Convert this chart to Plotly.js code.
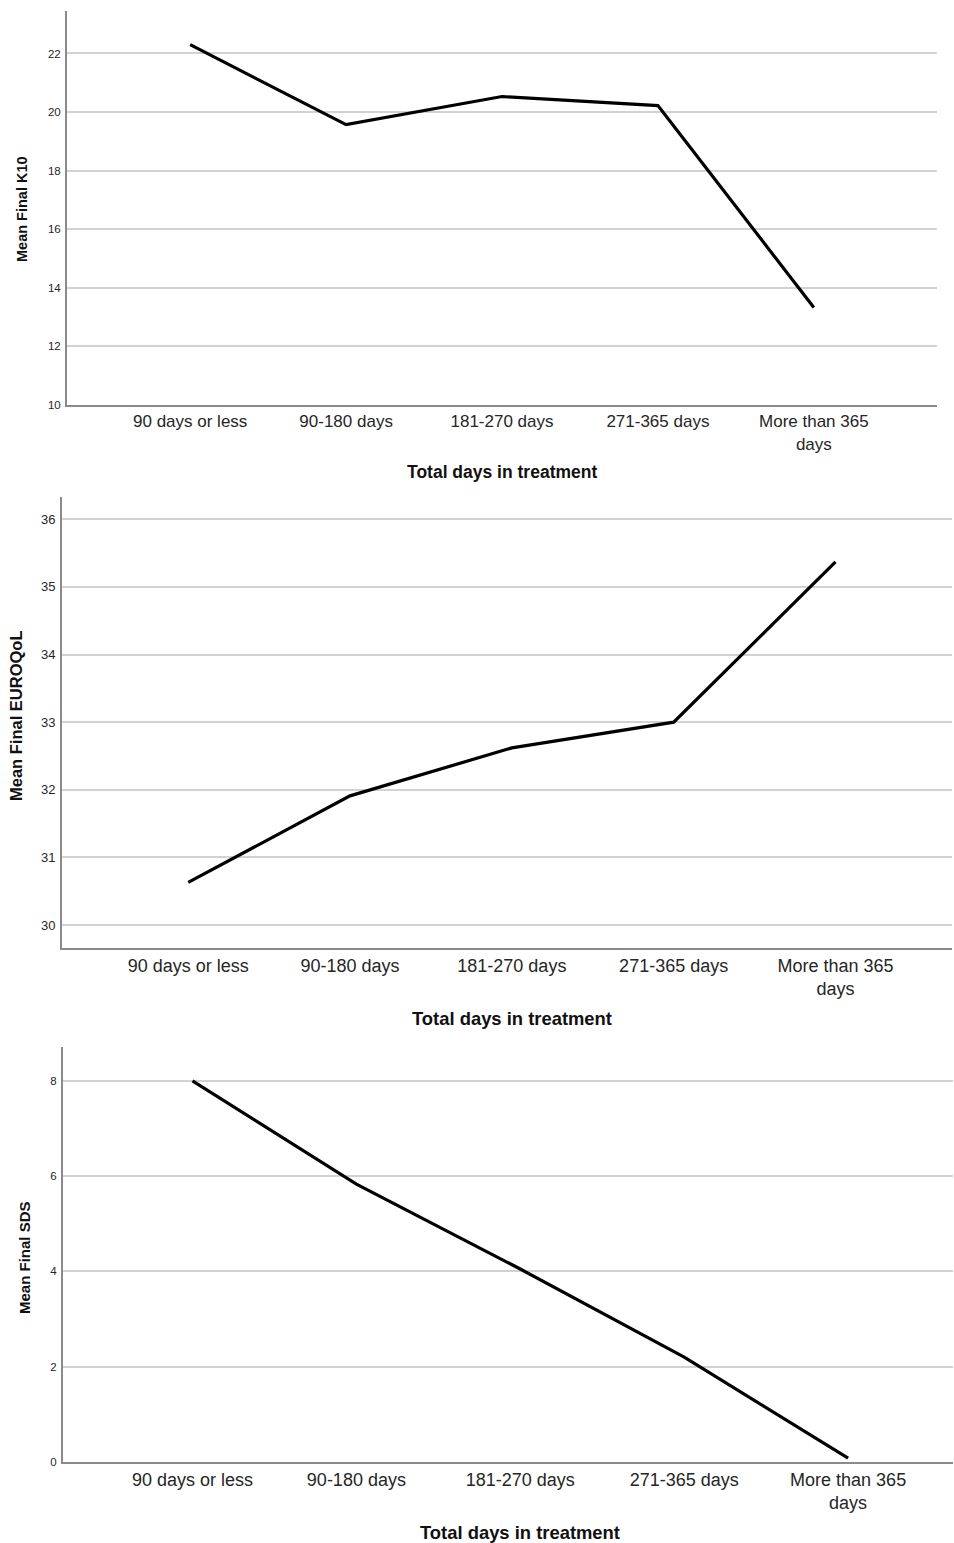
<!DOCTYPE html>
<html>
<head>
<meta charset="utf-8">
<script src="https://cdn.plot.ly/plotly-3.0.1.min.js"></script>
<style>html,body{margin:0;padding:0;background:#fff;}#chart{width:954px;height:1543px;}</style>
</head>
<body>
<div id="chart"></div>
<script>
// Data
const categories = ["90 days or less", "90-180 days", "181-270 days", "271-365 days", "More than 365 days"];
const tickLabels = ["90 days or less", "90-180 days", "181-270 days", "271-365 days", "More than 365<br>days"];
const k10Values = [22.3, 19.57, 20.53, 20.22, 13.33];
const euroqolValues = [30.63, 31.91, 32.62, 33.0, 35.37];
const sdsValues = [8.0, 5.83, 4.05, 2.2, 0.08];
const k10Ticks = [10, 12, 14, 16, 18, 20, 22];
const euroqolTicks = [30, 31, 32, 33, 34, 35, 36];
const sdsTicks = [0, 2, 4, 6, 8];
const xTitle = "Total days in treatment";
const yTitles = ["Mean Final K10", "Mean Final EUROQoL", "Mean Final SDS"];

const W = 954, H = 1543;
const px = v => v / W;
const py = v => 1 - v / H;
const FONT = "Liberation Sans, Arial, sans-serif";
const TXT = "#262626";

function trace(vals, xa, ya) {
  return {x: categories, y: vals, xaxis: xa, yaxis: ya, type: "scatter", mode: "lines",
    line: {color: "#000", width: 3.2}, hoverinfo: "skip", showlegend: false};
}
function xaxis(l, r, range, fs) {
  return {domain: [px(l), px(r)], type: "category", range: range, tickmode: "array",
    tickvals: categories, ticktext: tickLabels, showgrid: false, zeroline: false,
    showline: true, linecolor: "#8a8a8a", linewidth: 2, ticks: "", fixedrange: true,
    tickfont: {family: FONT, size: fs, color: TXT}};
}
function yaxis(t, b, range, ticks, fs, anchor) {
  return {domain: [py(b), py(t)], range: range, tickmode: "array", tickvals: ticks,
    showgrid: true, gridcolor: "#d2d2d2", gridwidth: 2, zeroline: false,
    showline: true, linecolor: "#8a8a8a", linewidth: 2, ticks: "", anchor: anchor,
    ticklabelstandoff: 2, fixedrange: true,
    tickfont: {family: FONT, size: fs, color: TXT}};
}

const data = [
  trace(k10Values, "x", "y"),
  trace(euroqolValues, "x2", "y2"),
  trace(sdsValues, "x3", "y3")
];

const layout = {
  width: W, height: H, margin: {l: 0, r: 0, t: 0, b: 0},
  paper_bgcolor: "#fff", plot_bgcolor: "#fff", showlegend: false,
  xaxis: Object.assign(xaxis(67, 937, [-0.79, 4.79], 17), {anchor: "y"}),
  yaxis: yaxis(11, 405, [10, 23.45], k10Ticks, 11.5, "x"),
  xaxis2: Object.assign(xaxis(62, 952, [-0.78, 4.72], 18), {anchor: "y2"}),
  yaxis2: yaxis(497, 948, [29.66, 36.33], euroqolTicks, 13, "x2"),
  xaxis3: Object.assign(xaxis(63, 953, [-0.79, 4.64], 18), {anchor: "y3"}),
  yaxis3: yaxis(1047, 1462, [0, 8.71], sdsTicks, 11.5, "x3"),
  annotations: [
    {xref: "x", yref: "paper", x: categories[2], y: py(472), text: "<b>" + xTitle + "</b>", showarrow: false,
      font: {family: FONT, size: 17.5, color: "#111"}, xanchor: "center", yanchor: "middle"},
    {xref: "x2", yref: "paper", x: categories[2], y: py(1018), text: "<b>" + xTitle + "</b>", showarrow: false,
      font: {family: FONT, size: 18.4, color: "#111"}, xanchor: "center", yanchor: "middle"},
    {xref: "x3", yref: "paper", x: categories[2], y: py(1532), text: "<b>" + xTitle + "</b>", showarrow: false,
      font: {family: FONT, size: 18.4, color: "#111"}, xanchor: "center", yanchor: "middle"},
    {xref: "paper", yref: "paper", x: px(22), y: py(209), text: "<b>" + yTitles[0] + "</b>", showarrow: false,
      textangle: -90, font: {family: FONT, size: 14.5, color: "#111"}, xanchor: "center", yanchor: "middle"},
    {xref: "paper", yref: "paper", x: px(16), y: py(716), text: "<b>" + yTitles[1] + "</b>", showarrow: false,
      textangle: -90, font: {family: FONT, size: 16.5, color: "#111"}, xanchor: "center", yanchor: "middle"},
    {xref: "paper", yref: "paper", x: px(24), y: py(1258), text: "<b>" + yTitles[2] + "</b>", showarrow: false,
      textangle: -90, font: {family: FONT, size: 15, color: "#111"}, xanchor: "center", yanchor: "middle"}
  ]
};

Plotly.newPlot("chart", data, layout, {staticPlot: true, displayModeBar: false});
</script>
</body>
</html>
